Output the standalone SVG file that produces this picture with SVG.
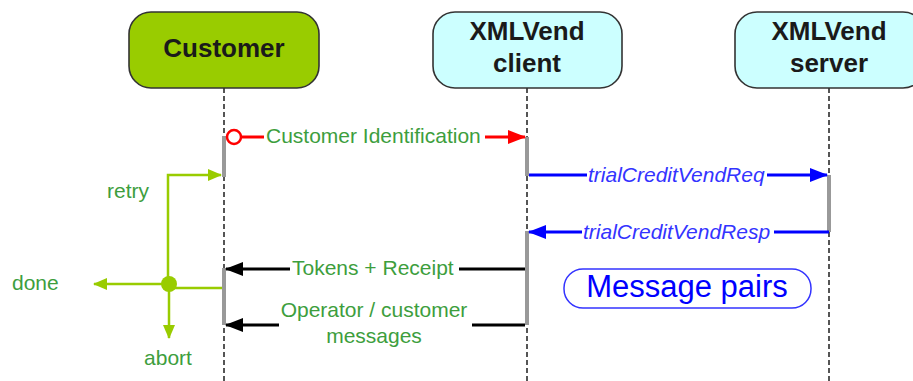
<svg xmlns="http://www.w3.org/2000/svg" width="913" height="381" viewBox="0 0 913 381">
<defs>
<style>
.box{stroke:#333;stroke-width:1.6}
.head{font-family:"Liberation Sans",Arial,sans-serif;font-weight:bold;font-size:26px;fill:#1a1a1a;text-anchor:middle}
.life{stroke:#555;stroke-width:2;stroke-dasharray:5 3;fill:none}
.act{stroke:#999;stroke-width:4;fill:none}
.lbl{font-family:"Liberation Sans",Arial,sans-serif;font-size:21px;fill:#3d9e3d}
.blbl{font-family:"Liberation Sans",Arial,sans-serif;font-size:21px;font-style:italic;fill:#3333ff}
.red{stroke:#ff0000;stroke-width:3;fill:none}
.blue{stroke:#0000ff;stroke-width:3;fill:none}
.blk{stroke:#000;stroke-width:3;fill:none}
.lg{stroke:#99cc00;stroke-width:2.5;fill:none}
</style>
<marker id="aRed" markerWidth="18" markerHeight="14" refX="17" refY="7" orient="auto" markerUnits="userSpaceOnUse"><path d="M0,0 L18,7 L0,14 Z" fill="#ff0000"/></marker>
<marker id="aBlue" markerWidth="18" markerHeight="14" refX="17" refY="7" orient="auto" markerUnits="userSpaceOnUse"><path d="M0,0 L18,7 L0,14 Z" fill="#0000ff"/></marker>
<marker id="aBlk" markerWidth="18" markerHeight="14" refX="17" refY="7" orient="auto" markerUnits="userSpaceOnUse"><path d="M0,0 L18,7 L0,14 Z" fill="#000"/></marker>
<marker id="aLg" markerWidth="14" markerHeight="12" refX="13" refY="6" orient="auto" markerUnits="userSpaceOnUse"><path d="M0,0 L14,6 L0,12 Z" fill="#99cc00"/></marker>
</defs>
<rect width="913" height="381" fill="#ffffff"/>

<g id="lifelines">
<line class="life" x1="224" y1="88" x2="224" y2="381"/>
<line class="life" x1="527" y1="88" x2="527" y2="381"/>
<line class="life" x1="829" y1="88" x2="829" y2="381"/>
<line class="act" x1="224" y1="136" x2="224" y2="177"/>
<line class="act" x1="224" y1="268" x2="224" y2="325"/>
<line class="act" x1="527" y1="137" x2="527" y2="176"/>
<line class="act" x1="527" y1="231" x2="527" y2="325"/>
<line class="act" x1="829" y1="175" x2="829" y2="232"/>
</g>

<g id="customer">
<rect class="box" x="129" y="12" width="190" height="76" rx="22" fill="#99cc00"/>
<text class="head" x="224" y="57">Customer</text>
</g>
<g id="client">
<rect class="box" x="433" y="12" width="189" height="76" rx="22" fill="#ccffff"/>
<text class="head" x="527" y="40">XMLVend</text>
<text class="head" x="527" y="72">client</text>
</g>
<g id="server">
<rect class="box" x="735" y="12" width="190" height="76" rx="22" fill="#ccffff"/>
<text class="head" x="829" y="40">XMLVend</text>
<text class="head" x="829" y="72">server</text>
</g>

<g id="message-pairs">
<rect x="564" y="269" width="247" height="39" rx="19" fill="none" stroke="#3333ff" stroke-width="1.5"/>
<text x="687" y="297" font-family="Liberation Sans, Arial, sans-serif" font-size="31" fill="#0000ff" text-anchor="middle">Message pairs</text>
</g>

<g id="connectors">
<circle cx="234" cy="137" r="7" fill="#fff" stroke="#ff0000" stroke-width="2.5"/>
<line class="red" x1="241" y1="137" x2="264" y2="137"/>
<line class="red" x1="485" y1="137" x2="525" y2="137" marker-end="url(#aRed)"/>
<text class="lbl" x="266" y="143">Customer Identification</text>

<line class="blue" x1="529" y1="175" x2="587" y2="175"/>
<line class="blue" x1="767" y1="175" x2="827" y2="175" marker-end="url(#aBlue)"/>
<text class="blbl" x="588" y="182">trialCreditVendReq</text>

<line class="blue" x1="829" y1="232" x2="774" y2="232"/>
<line class="blue" x1="582" y1="232" x2="529" y2="232" marker-end="url(#aBlue)"/>
<text class="blbl" x="583" y="239">trialCreditVendResp</text>

<line class="blk" x1="525" y1="269" x2="459" y2="269"/>
<line class="blk" x1="290" y1="269" x2="226" y2="269" marker-end="url(#aBlk)"/>
<text class="lbl" x="292" y="275">Tokens + Receipt</text>

<line class="blk" x1="525" y1="325" x2="472" y2="325"/>
<line class="blk" x1="279" y1="325" x2="226" y2="325" marker-end="url(#aBlk)"/>
<text class="lbl" x="374" y="317" text-anchor="middle">Operator / customer</text>
<text class="lbl" x="374" y="343" text-anchor="middle">messages</text>

<line class="lg" x1="222" y1="288" x2="169" y2="288"/>
<polyline class="lg" points="168,285 168,175 221,175" marker-end="url(#aLg)"/>
<line class="lg" x1="169" y1="284" x2="94" y2="284" marker-end="url(#aLg)"/>
<line class="lg" x1="169" y1="285" x2="169" y2="338" marker-end="url(#aLg)"/>
<circle cx="169" cy="284" r="8" fill="#99cc00"/>
<text class="lbl" x="107" y="198">retry</text>
<text class="lbl" x="12" y="290">done</text>
<text class="lbl" x="168" y="365" text-anchor="middle">abort</text>
</g>
</svg>
